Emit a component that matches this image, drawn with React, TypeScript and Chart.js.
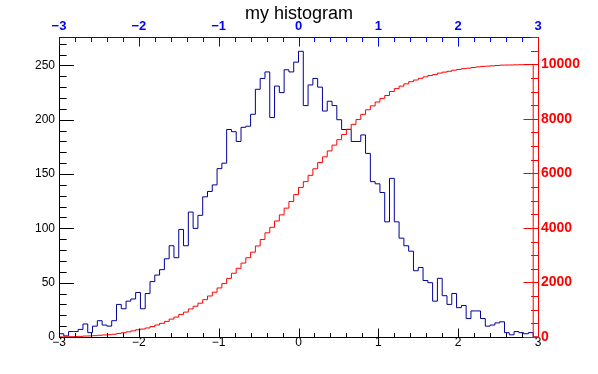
import { useEffect, useRef } from 'react';
import { Chart, registerables } from 'chart.js';

Chart.register(...registerables);

// Histogram definition (100 bins from -3 to 3)
const binLow = -3;
const binHigh = 3;
const counts = [
  2, 3, 1, 5, 5, 7, 12, 4, 10, 15,
  11, 10, 15, 30, 26, 33, 35, 41, 26, 40,
  51, 57, 62, 72, 84, 73, 99, 84, 115, 100,
  112, 129, 134, 140, 155, 160, 191, 189, 180, 193,
  194, 205, 228, 238, 244, 202, 231, 225, 246, 244,
  253, 263, 213, 232, 238, 230, 208, 217, 213, 200,
  191, 191, 180, 180, 186, 169, 143, 141, 133, 106,
  146, 106, 91, 84, 79, 61, 64, 52, 50, 33,
  54, 38, 30, 40, 27, 29, 17, 24, 24, 17,
  10, 11, 13, 14, 4, 2, 5, 4, 3, 4,
];

const titleText = 'my histogram';
const xTickValues = [-3, -2, -1, 0, 1, 2, 3];
const leftTickValues = [0, 50, 100, 150, 200, 250];
const rightTickValues = [0, 2000, 4000, 6000, 8000, 10000];
const leftMax = 276.15;
const rightMax = 11000;

const fmt = (v: number) => (v < 0 ? '\u2212' + Math.abs(v) : String(v));

function stepPoints(values: number[]) {
  const n = values.length;
  const w = (binHigh - binLow) / n;
  const pts: { x: number; y: number }[] = [{ x: binLow, y: 0 }];
  values.forEach((v, i) => pts.push({ x: binLow + i * w, y: v }));
  pts.push({ x: binHigh, y: 0 });
  return pts;
}

// cumulative histogram built from the counts
const cumulative: number[] = [];
counts.reduce((s, v) => {
  const t = s + v;
  cumulative.push(t);
  return t;
}, 0);

const rootPlugin = {
  id: 'rootAxes',
  afterDraw(chart: any) {
    const { ctx, chartArea: a, scales } = chart;
    const al = (v: number) => Math.round(v) + 0.5;
    ctx.save();
    ctx.lineWidth = 1;
    // bottom axis ticks + line
    ctx.strokeStyle = '#000000';
    ctx.beginPath();
    for (let i = 0; i <= 30; i++) {
      const v = binLow + i * 0.2;
      const px = al(scales.x.getPixelForValue(v));
      const len = i % 5 === 0 ? 9 : 4.5;
      ctx.moveTo(px, al(a.bottom));
      ctx.lineTo(px, al(a.bottom) - len);
    }
    ctx.moveTo(al(a.left), al(a.bottom));
    ctx.lineTo(al(a.right), al(a.bottom));
    // left axis
    for (let v = 0; v <= leftMax; v += 10) {
      const py = al(scales.y.getPixelForValue(v));
      const len = v % 50 === 0 ? 14.4 : 7.2;
      ctx.moveTo(al(a.left), py);
      ctx.lineTo(al(a.left) + len, py);
    }
    ctx.moveTo(al(a.left), al(a.top));
    ctx.lineTo(al(a.left), al(a.bottom));
    ctx.stroke();
    // top axis (blue)
    ctx.strokeStyle = '#0000ff';
    ctx.beginPath();
    for (let i = 0; i <= 30; i++) {
      const v = binLow + i * 0.2;
      const px = al(scales.x2.getPixelForValue(v));
      const len = i % 5 === 0 ? 9 : 4.5;
      ctx.moveTo(px, al(a.top));
      ctx.lineTo(px, al(a.top) + len);
    }
    ctx.moveTo(al(a.left) - 0.5, al(a.top));
    ctx.lineTo(al(a.right) + 0.5, al(a.top));
    ctx.stroke();
    // right axis (red)
    ctx.strokeStyle = '#ff0000';
    ctx.beginPath();
    for (let v = 0; v <= rightMax; v += 500) {
      const py = al(scales.y2.getPixelForValue(v));
      const len = v % 2000 === 0 ? 15 : 7.5;
      ctx.moveTo(al(a.right), py);
      ctx.lineTo(al(a.right) - len, py);
    }
    ctx.moveTo(al(a.right), al(a.top));
    ctx.lineTo(al(a.right), al(a.bottom) + 0.5);
    ctx.stroke();
    // title
    ctx.fillStyle = '#000000';
    ctx.font = '18px "Liberation Sans", Arial, sans-serif';
    ctx.textAlign = 'center';
    ctx.textBaseline = 'alphabetic';
    ctx.fillText(titleText, 299, 18.5);
    ctx.restore();
  },
};

export default function App() {
  const ref = useRef<HTMLCanvasElement | null>(null);
  useEffect(() => {
    if (!ref.current) return;
    const font = '"Liberation Sans", Arial, sans-serif';
    const chart = new Chart(ref.current, {
      type: 'line',
      data: {
        datasets: [
          {
            label: 'cumulative',
            data: stepPoints(cumulative),
            yAxisID: 'y2',
            xAxisID: 'x',
            borderColor: '#ff0000',
            borderWidth: 1,
            pointRadius: 0,
            stepped: 'after',
            fill: false,
            order: 0,
          },
          {
            label: 'histogram',
            data: stepPoints(counts),
            yAxisID: 'y',
            xAxisID: 'x',
            borderColor: '#000099',
            borderWidth: 1,
            pointRadius: 0,
            stepped: 'after',
            fill: false,
            order: 1,
          },
        ],
      },
      options: {
        animation: false,
        responsive: false,
        devicePixelRatio: 1,
        layout: { padding: 0 },
        plugins: { legend: { display: false }, tooltip: { enabled: false }, title: { display: false } },
        scales: {
          x: {
            type: 'linear',
            position: 'bottom',
            min: binLow,
            max: binHigh,
            afterFit: (s: any) => { s.height = 37; },
            afterBuildTicks: (s: any) => { s.ticks = xTickValues.map((v) => ({ value: v })); },
            ticks: {
              autoSkip: false,
              maxRotation: 0,
              padding: 0,
              color: '#000000',
              font: { family: font, size: 12, lineHeight: 1 },
              callback: (v: any) => fmt(Number(v)),
            },
            grid: { display: false, drawTicks: false },
            border: { display: false },
          },
          x2: {
            type: 'linear',
            position: 'top',
            min: binLow,
            max: binHigh,
            afterFit: (s: any) => { s.height = 37; },
            afterBuildTicks: (s: any) => { s.ticks = xTickValues.map((v) => ({ value: v })); },
            ticks: {
              autoSkip: false,
              maxRotation: 0,
              padding: 4,
              color: '#0000ff',
              font: { family: font, size: 13, weight: 'bold', lineHeight: 1 },
              callback: (v: any) => fmt(Number(v)),
            },
            grid: { display: false, drawTicks: false },
            border: { display: false },
          },
          y: {
            type: 'linear',
            position: 'left',
            min: 0,
            max: leftMax,
            afterFit: (s: any) => { s.width = 59; },
            afterBuildTicks: (s: any) => { s.ticks = leftTickValues.map((v) => ({ value: v })); },
            ticks: {
              autoSkip: false,
              padding: 4,
              color: '#000000',
              font: { family: font, size: 12, lineHeight: 1 },
            },
            grid: { display: false, drawTicks: false },
            border: { display: false },
          },
          y2: {
            type: 'linear',
            position: 'right',
            min: 0,
            max: rightMax,
            afterFit: (s: any) => { s.width = 60; },
            afterBuildTicks: (s: any) => { s.ticks = rightTickValues.map((v) => ({ value: v })); },
            ticks: {
              autoSkip: false,
              padding: 3,
              color: '#ff0000',
              font: { family: font, size: 14, weight: 'bold', lineHeight: 1 },
              callback: (v: any) => String(v),
            },
            grid: { display: false, drawTicks: false },
            border: { display: false },
          },
        },
      } as any,
      plugins: [rootPlugin],
    });
    return () => chart.destroy();
  }, []);
  return (
    <div style={{ position: 'absolute', left: 0, top: 0, width: 598, height: 374, background: '#ffffff' }}>
      <canvas ref={ref} width={598} height={374} style={{ display: 'block' }} />
    </div>
  );
}
